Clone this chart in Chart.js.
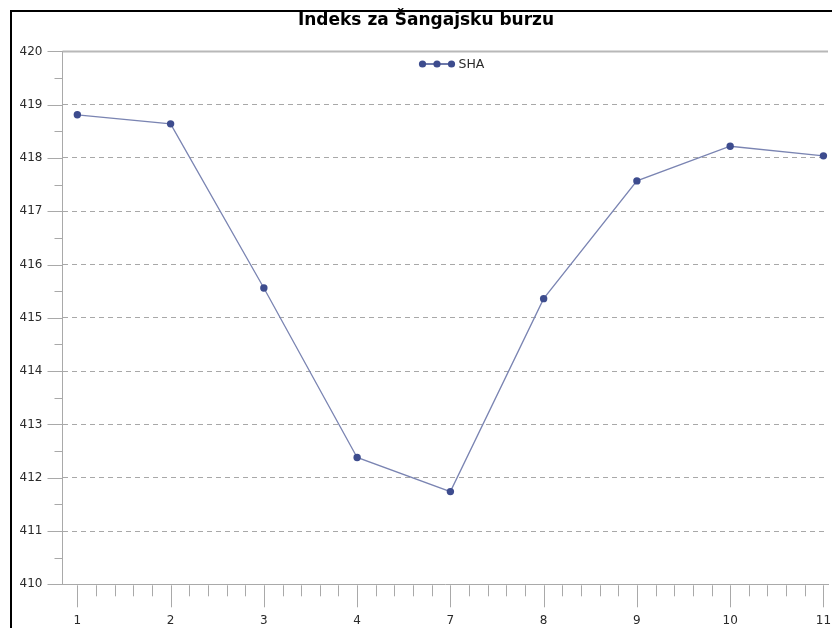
<!DOCTYPE html>
<html>
<head>
<meta charset="utf-8">
<title>Indeks za Šangajsku burzu</title>
<script src="https://cdn.jsdelivr.net/npm/chart.js@4/dist/chart.umd.min.js"></script>
<style>
  html, body { margin: 0; padding: 0; background: #fff; overflow: hidden; }
  #shaChart { display: block; }
</style>
</head>
<body>
<canvas id="shaChart" width="832" height="628"></canvas>
<script>
// trading days shown on the x axis
const xLabels = ['1', '2', '3', '4', '7', '8', '9', '10', '11'];
// SHA index closing values
const shaValues = [418.81, 418.64, 415.56, 412.38, 411.74, 415.36, 417.57, 418.22, 418.04];
const seriesName = 'SHA';
const yMin = 410;
const yMax = 420;

const lineColor = '#7a84b2';
const pointColor = '#3d4c8e';
const axisColor = '#a9a9a9';
const textColor = '#2a2a2a';

Chart.defaults.font.family = "'DejaVu Sans', sans-serif";
Chart.defaults.color = textColor;

// outer frame, minor/major tick marks, solid top rule and the inline legend
const decorations = {
  id: 'decorations',
  beforeDraw(chart) {
    const { ctx, width, height } = chart;
    ctx.save();
    ctx.strokeStyle = '#000';
    ctx.lineWidth = 2;
    ctx.beginPath();
    ctx.moveTo(11, height + 2);
    ctx.lineTo(11, 11);
    ctx.lineTo(width + 2, 11);
    ctx.stroke();
    ctx.restore();
  },
  beforeDatasetsDraw(chart) {
    const { ctx, chartArea, scales: { y } } = chart;
    const top = y.getPixelForValue(yMax);
    ctx.save();
    ctx.strokeStyle = '#b8b8b8';
    ctx.lineWidth = 2;
    ctx.beginPath();
    ctx.moveTo(chartArea.left, top);
    ctx.lineTo(chartArea.right, top);
    ctx.stroke();
    ctx.restore();
  },
  afterDraw(chart) {
    const { ctx, chartArea, scales: { x, y } } = chart;
    ctx.save();
    ctx.strokeStyle = axisColor;
    ctx.lineWidth = 1;
    ctx.beginPath();
    // y ticks: long at whole numbers, short at halves
    for (let v = yMin; v <= yMax + 1e-9; v += 0.5) {
      const py = Math.round(y.getPixelForValue(v)) + 0.5;
      const len = Number.isInteger(v) ? 15 : 8;
      ctx.moveTo(chartArea.left - len, py);
      ctx.lineTo(chartArea.left, py);
    }
    // x ticks: long at each day, four short ones between
    for (let i = 0; i < xLabels.length - 1 + 1e-9; i += 0.2) {
      const idx = Math.round(i * 5) / 5;
      const px = Math.round(x.getPixelForValue(idx)) + 0.5;
      const len = Number.isInteger(idx) ? 23 : 12;
      ctx.moveTo(px, chartArea.bottom + 1);
      ctx.lineTo(px, chartArea.bottom + len);
    }
    ctx.stroke();

    // legend sitting inside the plot area
    ctx.font = "12.5px 'DejaVu Sans', sans-serif";
    const start = 419;
    const ly = 64;
    ctx.strokeStyle = pointColor;
    ctx.lineWidth = 1.3;
    ctx.beginPath();
    ctx.moveTo(start, ly);
    ctx.lineTo(start + 36, ly);
    ctx.stroke();
    ctx.fillStyle = pointColor;
    [3.5, 18, 32.5].forEach(dx => {
      ctx.beginPath();
      ctx.arc(start + dx, ly, 3.6, 0, Math.PI * 2);
      ctx.fill();
    });
    ctx.fillStyle = textColor;
    ctx.textBaseline = 'middle';
    ctx.textAlign = 'left';
    ctx.fillText(seriesName, start + 39.5, ly + 1);
    ctx.restore();
  }
};

new Chart(document.getElementById('shaChart'), {
  type: 'line',
  data: {
    datasets: [{
      label: seriesName,
      data: xLabels.map((_, i) => ({ x: i, y: shaValues[i] })),
      borderColor: lineColor,
      borderWidth: 1.3,
      pointBackgroundColor: pointColor,
      pointBorderColor: pointColor,
      pointBorderWidth: 0,
      pointRadius: 3.7,
      tension: 0,
      clip: false
    }]
  },
  options: {
    responsive: false,
    animation: false,
    events: [],
    // left padding shifts the title centre; the y axis box is narrowed to match
    layout: { padding: { left: 20, right: 0, top: 0, bottom: 0 } },
    plugins: {
      legend: { display: false },
      tooltip: { enabled: false },
      title: {
        display: true,
        text: 'Indeks za Šangajsku burzu',
        color: '#000',
        font: { size: 17, weight: 'bold' },
        padding: { top: 10, bottom: 21 }
      }
    },
    scales: {
      x: {
        type: 'linear',
        min: -0.159,
        max: 8.049,
        afterBuildTicks: scale => {
          scale.ticks = xLabels.map((_, i) => ({ value: i }));
        },
        afterFit: scale => {
          scale.height = 43.7;
          scale.paddingLeft = 0;
          scale.paddingRight = 0;
        },
        ticks: {
          padding: 29,
          font: { size: 12 },
          maxRotation: 0,
          autoSkip: false,
          callback: v => xLabels[v]
        },
        grid: { color: 'rgba(0,0,0,0)', drawTicks: false },
        border: { display: true, color: axisColor, width: 1 }
      },
      y: {
        min: yMin,
        max: yMax,
        afterFit: scale => { scale.width = 42.5; },
        ticks: {
          stepSize: 1,
          padding: 20,
          font: { size: 12 }
        },
        grid: {
          drawTicks: false,
          lineWidth: 1,
          color: c => (c.tick && c.tick.value > yMin && c.tick.value < yMax) ? '#a8a8a8' : 'rgba(0,0,0,0)'
        },
        border: { display: true, color: axisColor, width: 1, dash: [5, 4] }
      }
    }
  },
  plugins: [decorations]
});
</script>
</body>
</html>
